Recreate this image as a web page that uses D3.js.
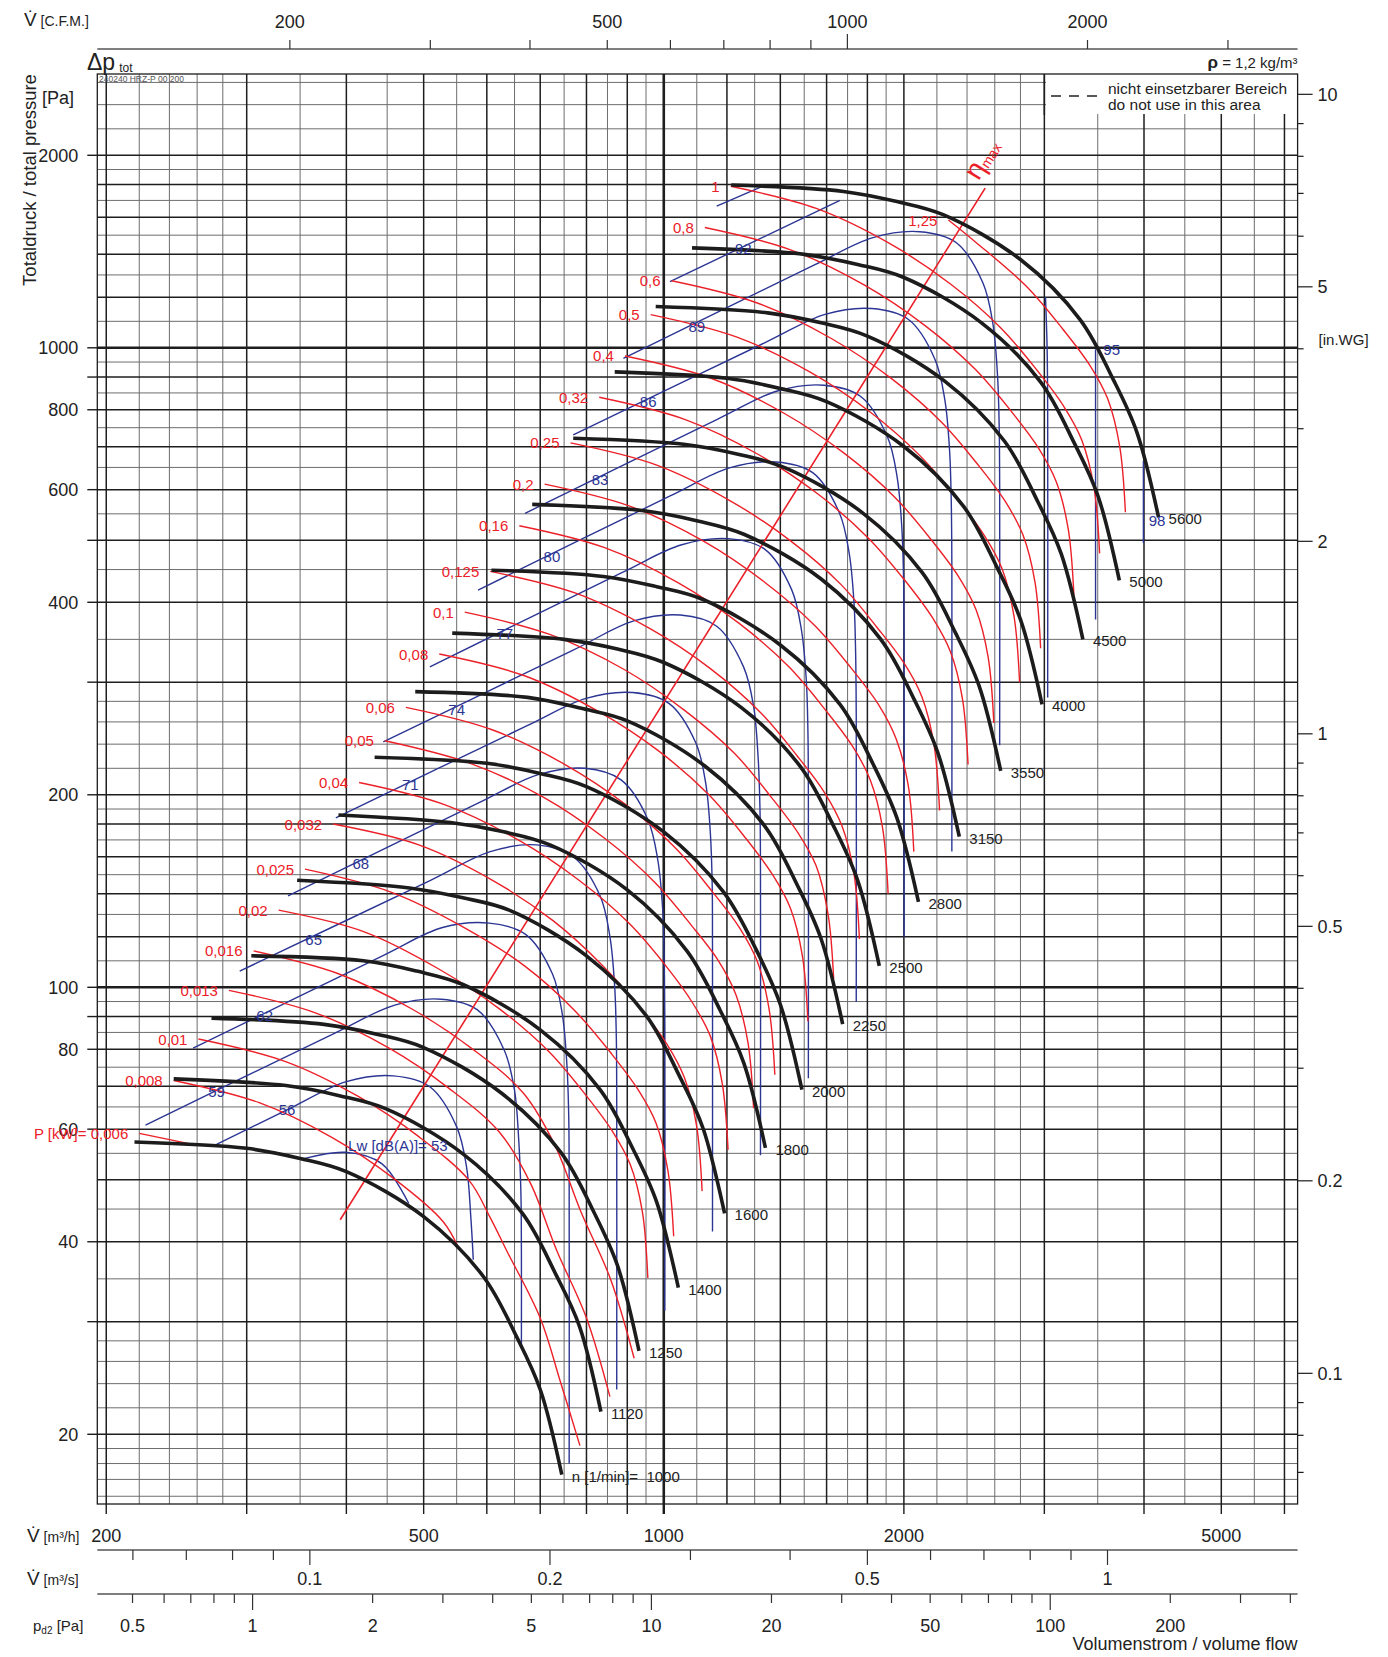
<!DOCTYPE html>
<html lang="de">
<head>
<meta charset="UTF-8">
<title>Kennlinie</title>
<script src="https://cdn.jsdelivr.net/npm/d3@7"></script>
<style>
  body { margin: 0; background: #fff; }
  svg { display: block; font-family: "Liberation Sans", Arial, sans-serif; }
  text { white-space: pre; }
</style>
</head>
<body>
<svg id="chart" width="1388" height="1657"></svg>
<script>
// ---- speed curves n [1/min], flow in m3/h, total pressure in Pa
const speedLevels = [1000, 1120, 1250, 1400, 1600, 1800, 2000, 2250, 2500, 2800, 3150, 3550, 4000, 4500, 5000, 5600];
const speedFlow = [
  [217, 300, 350, 400, 500, 594, 654, 700, 745],
  [243, 336, 392, 448, 560, 665, 732, 784, 834],
  [271, 375, 438, 500, 625, 743, 818, 875, 931],
  [304, 420, 490, 560, 700, 832, 916, 980, 1043],
  [347, 480, 560, 640, 800, 950, 1046, 1120, 1192],
  [391, 540, 630, 720, 900, 1069, 1177, 1260, 1341],
  [434, 600, 700, 800, 1000, 1188, 1308, 1400, 1490],
  [488, 675, 788, 900, 1125, 1337, 1472, 1575, 1676],
  [543, 750, 875, 1000, 1250, 1485, 1635, 1750, 1863],
  [608, 840, 980, 1120, 1400, 1663, 1831, 1960, 2086],
  [684, 945, 1103, 1260, 1575, 1871, 2060, 2205, 2347],
  [770, 1065, 1243, 1420, 1775, 2109, 2322, 2485, 2645],
  [868, 1200, 1400, 1600, 2000, 2376, 2616, 2800, 2980],
  [977, 1350, 1575, 1800, 2250, 2673, 2943, 3150, 3353],
  [1085, 1500, 1750, 2000, 2500, 2970, 3270, 3500, 3725],
  [1215, 1680, 1960, 2240, 2800, 3326, 3662, 3920, 4172]
];
const speedPressure = [
  [57.3, 56.0, 54.0, 51.5, 43.8, 35.3, 28.4, 23.5, 17.3],
  [71.9, 70.2, 67.7, 64.6, 54.9, 44.3, 35.6, 29.5, 21.7],
  [89.5, 87.5, 84.4, 80.5, 68.4, 55.2, 44.4, 36.7, 27.0],
  [112, 110, 106, 101, 85.8, 69.2, 55.7, 46.1, 33.9],
  [147, 143, 138, 132, 112, 90.4, 72.7, 60.2, 44.3],
  [186, 181, 175, 167, 142, 114, 92.0, 76.1, 56.1],
  [229, 224, 216, 206, 175, 141, 114, 94.0, 69.2],
  [290, 284, 273, 261, 222, 179, 144, 119, 87.6],
  [358, 350, 338, 322, 274, 221, 178, 147, 108],
  [449, 439, 423, 404, 343, 277, 223, 184, 136],
  [569, 556, 536, 511, 435, 350, 282, 233, 172],
  [722, 706, 681, 649, 552, 445, 358, 296, 218],
  [917, 896, 864, 824, 701, 565, 454, 376, 277],
  [1160, 1134, 1094, 1043, 887, 715, 575, 476, 350],
  [1433, 1400, 1350, 1288, 1095, 883, 710, 588, 433],
  [1797, 1756, 1693, 1615, 1374, 1107, 891, 737, 543]
];

// ---- shaft power P [kW]
const powerLevels = [0.006, 0.008, 0.01, 0.013, 0.016, 0.02, 0.025, 0.032, 0.04, 0.05, 0.06, 0.08,
                     0.1, 0.125, 0.16, 0.2, 0.25, 0.32, 0.4, 0.5, 0.6, 0.8, 1, 1.25];
const powerFlow = [
  [220, 253],
  [243, 311, 384, 458, 529, 552],
  [261, 335, 414, 493, 570, 605, 635, 700, 741, 785],
  [285, 365, 452, 538, 622, 680, 734, 800, 856],
  [306, 391, 484, 577, 667, 729, 787, 858, 918],
  [329, 422, 521, 621, 718, 798, 862, 908, 940, 955],
  [355, 454, 562, 669, 773, 860, 929, 978, 1012, 1029],
  [385, 493, 610, 727, 839, 934, 1009, 1061, 1099, 1117],
  [415, 531, 657, 783, 904, 1006, 1087, 1144, 1184, 1204],
  [447, 572, 708, 843, 974, 1083, 1171, 1232, 1275, 1296],
  [475, 608, 752, 896, 1035, 1151, 1244, 1309, 1355, 1378],
  [523, 669, 828, 986, 1139, 1267, 1369, 1441, 1492, 1516],
  [563, 721, 892, 1062, 1227, 1365, 1475, 1552, 1607, 1633],
  [606, 777, 960, 1144, 1322, 1470, 1589, 1672, 1731, 1759],
  [659, 843, 1043, 1242, 1435, 1596, 1725, 1815, 1880, 1911],
  [709, 908, 1123, 1338, 1546, 1720, 1858, 1955, 2025, 2058],
  [764, 978, 1210, 1442, 1666, 1852, 2002, 2106, 2181, 2217],
  [830, 1062, 1314, 1565, 1808, 2011, 2173, 2287, 2368, 2407],
  [894, 1144, 1415, 1686, 1948, 2167, 2341, 2464, 2551, 2593],
  [963, 1233, 1524, 1816, 2098, 2334, 2522, 2654, 2748, 2793],
  [1023, 1310, 1620, 1930, 2230, 2480, 2680, 2820, 2920, 2968],
  [1126, 1442, 1783, 2124, 2454, 2730, 2950, 3104, 3214, 3267],
  [1213, 1553, 1921, 2288, 2644, 2940, 3177, 3343, 3462, 3519],
  [2274, 2465, 2848, 3167, 3423, 3602, 3729, 3791]
];
const powerPressure = [
  [59.1, 57.0],
  [71.5, 66.0, 58.2, 50.3, 43.0, 39.3],
  [83.0, 76.6, 67.5, 58.4, 49.9, 43.8, 38.8, 30.4, 24.3, 19.2],
  [98.9, 91.3, 80.4, 69.5, 59.4, 49.5, 38.8, 30.4, 22.9],
  [114, 105, 92.4, 79.9, 68.3, 56.9, 44.6, 34.9, 26.3],
  [132, 122, 107, 92.7, 79.3, 67.9, 59.6, 52.8, 44.6, 35.1],
  [153, 141, 124, 108, 92.0, 78.7, 69.1, 61.3, 51.7, 40.8],
  [180, 167, 147, 127, 108, 92.8, 81.5, 72.3, 60.9, 48.0],
  [209, 193, 170, 147, 126, 108, 94.5, 83.8, 70.7, 55.7],
  [243, 224, 198, 171, 146, 125, 110, 97.3, 82.0, 64.7],
  [274, 253, 223, 193, 165, 141, 124, 110, 92.6, 73.0],
  [332, 307, 270, 234, 200, 171, 150, 133, 112, 88.5],
  [386, 356, 314, 271, 232, 198, 174, 155, 130, 103],
  [447, 413, 364, 315, 269, 230, 202, 179, 151, 119],
  [527, 487, 429, 371, 317, 271, 238, 211, 178, 140],
  [612, 565, 498, 430, 368, 315, 277, 245, 207, 163],
  [710, 656, 577, 499, 427, 365, 321, 285, 240, 189],
  [837, 773, 681, 589, 503, 431, 378, 335, 283, 223],
  [971, 897, 790, 683, 584, 500, 439, 389, 328, 259],
  [1127, 1040, 917, 793, 677, 580, 509, 452, 381, 300],
  [1273, 1175, 1035, 895, 765, 655, 575, 510, 430, 339],
  [1542, 1423, 1254, 1084, 927, 794, 697, 618, 521, 411],
  [1789, 1652, 1455, 1258, 1075, 921, 808, 717, 605, 477],
  [1584, 1460, 1248, 1068, 938, 832, 701, 553]
];

// ---- sound power Lw [dB(A)]  (null = gap in the line)
const noiseLevels = [53, 56, 59, 62, 65, 68, 71, 74, 77, 80, 83, 86, 89, 92, 95, 98];
const noiseFlow = [
  [355, 399, 443, 479],
  [275, 337, 400, 458, 509, 550, 566, 573, 577],
  [224, 387, 460, 526, 584, 631, 650, 658, 662, 663, 663],
  [257, 444, 528, 604, 671, 725, 746, 756, 760, 761, 761],
  [294, 510, 606, 693, 770, 832, 856, 868, 872, 873, 873],
  [338, 585, 696, 796, 884, 955, 983, 997, 1001, 1003, 1003],
  [388, 672, 799, 914, 1015, 1097, 1129, 1144, 1150, 1151, 1151],
  [445, 771, 917, 1049, 1165, 1259, 1296, 1313, 1320, 1322, 1322],
  [509, 886, 1053, 1205, 1339, 1446, 1488, 1509, 1516, 1518, 1518],
  [585, 1017, 1209, 1383, 1537, 1660, 1708, 1732, 1740, 1743, 1743],
  [670, 1167, 1388, 1588, 1764, 1906, 1961, 1988, 1998, 2001, 2001],
  [770, 1340, 1593, 1823, 2025, 2188, 2251, 2282, 2293, 2297, 2297],
  [890, 1538, 1829, 2093, 2325, 2512, 2585, 2620, 2633, 2637, 2637],
  [1018, 1663, null, 3010, 3024, 3029, 3029],
  [1165, 1327, null, 3478, 3478],
  [3993, 3993]
];
const noisePressure = [
  [54.0, 55.2, 53.0, 45.9],
  [56.8, 64.3, 71.2, 72.7, 69.9, 60.5, 52.3, 43.6, 37.5],
  [60.9, 84.8, 93.8, 95.8, 92.2, 79.7, 69.0, 57.5, 47.9, 38.3, 27.3],
  [80.3, 112, 124, 126, 121, 105, 90.9, 75.8, 63.2, 50.5, 18.0],
  [106, 147, 163, 167, 160, 139, 120, 99.9, 83.3, 66.6, 23.5],
  [139, 194, 215, 220, 211, 183, 158, 132, 110, 87.8, 31.2],
  [184, 256, 283, 289, 278, 241, 208, 174, 145, 116, 41.5],
  [242, 337, 374, 382, 367, 317, 275, 229, 191, 153, 54.6],
  [317, 445, 492, 503, 484, 419, 362, 302, 252, 201, 72.1],
  [418, 586, 649, 663, 638, 552, 477, 398, 332, 265, 94.8],
  [551, 773, 856, 874, 840, 727, 629, 524, 437, 350, 120],
  [731, 1019, 1128, 1152, 1108, 959, 829, 691, 576, 461, 163],
  [963, 1344, 1487, 1519, 1461, 1264, 1094, 911, 760, 608, 239],
  [1269, 1700, null, 1201, 1001, 801, 284],
  [1666, 1786, null, 995, 376],
  [665, 495]
];

// efficiency maximum line
const etaFlow = [393, 2529];
const etaPressure = [43.3, 1777];

// grid / tick values
const flowMinor = [220, 240, 260, 280, 350, 450, 550, 650, 750, 850, 950, 1100, 1300, 1500, 1700, 1900,
                   2200, 2400, 2600, 2800, 3500, 4500, 5500];
const flowMajor = [200, 300, 400, 500, 600, 700, 800, 900, 1000, 1200, 1400, 1600, 1800, 2000, 3000, 4000, 5000, 6000];
const pressMinor = [16, 17, 18, 19, 22, 24, 26, 28, 35, 45, 55, 65, 75, 85, 95, 110, 130, 150, 170, 190,
                    220, 240, 260, 280, 350, 450, 550, 650, 750, 850, 950, 1100, 1300, 1500, 1700, 1900, 2200, 2400, 2600];
const pressMajor = [20, 30, 40, 50, 60, 70, 80, 90, 100, 120, 140, 160, 180, 200, 300, 400, 500, 600, 700, 800, 900,
                    1000, 1200, 1400, 1600, 1800, 2000];
const pressTicks = [2000, 1000, 900, 800, 600, 500, 400, 300, 200, 100, 90, 80, 60, 40, 30, 20];
const pressLabels = [2000, 1000, 800, 600, 400, 200, 100, 80, 60, 40, 20];
const flowBottomTicks = [200, 300, 400, 500, 600, 700, 800, 900, 1000, 2000, 3000, 4000, 5000, 6000];
const flowLabels = [200, 500, 1000, 2000, 5000];
const cfmTicks = [200, 300, 400, 500, 600, 700, 800, 900, 1000, 2000, 3000];
const cfmLabels = [200, 500, 1000, 2000];
const m3sTicks = [0.06, 0.07, 0.08, 0.09, 0.1, 0.2, 0.3, 0.4, 0.5, 0.6, 0.7, 0.8, 0.9, 1];
const m3sLabels = [0.1, 0.2, 0.5, 1];
const pdTicks = [0.5, 0.6, 0.7, 0.8, 0.9, 1, 2, 3, 4, 5, 6, 7, 8, 9, 10, 20, 30, 40, 50, 60, 70, 80, 90, 100, 200, 300, 400];
const pdLabels = [0.5, 1, 2, 5, 10, 20, 50, 100, 200];
const inwgTicks = [10, 9, 8, 7, 6, 5, 4, 3, 2, 1, 0.9, 0.8, 0.7, 0.6, 0.5, 0.4, 0.3, 0.2, 0.1, 0.09, 0.08, 0.07];
const inwgLabels = [10, 5, 2, 1, 0.5, 0.2, 0.1];

// label anchors for the sound curves
const noiseLabelFlow = [402, 337, 275, 316, 364, 417, 481, 550, 632, 724, 832, 956, 1100, 1258, 3644, 4153];
const noiseLabelPressure = [56.5, 64.3, 68.7, 90.5, 118.6, 156.3, 207.2, 271.5, 357.7, 472.5, 622.6, 823.6, 1079, 1431, 993, 536];

// unit conversions
const CFM = 1.699;      // m3/h per cfm
const INWG = 249.089;   // Pa per in.WG
const PD1000 = 10.74;   // dynamic pressure [Pa] at 1000 m3/h

// ---- layout
const L = 97.3, R = 1297.6, T = 74, B = 1504;
const RED = "#ec2028", BLUE = "#2b3594", INK = "#1c1c1c";

const svg = d3.select("#chart");
const x = d3.scaleLog().domain([194.9, 6232]).range([L, R]);
const y = d3.scaleLog().domain([15.56, 2680]).range([B, T]);

const grid = svg.append("g");
grid.selectAll(".vmin").data(flowMinor).join("line")
  .attr("x1", d => x(d)).attr("x2", d => x(d)).attr("y1", T).attr("y2", B)
  .attr("stroke", "#6d6d6d").attr("stroke-width", 1);
grid.selectAll(".hmin").data(pressMinor).join("line")
  .attr("x1", L).attr("x2", R).attr("y1", d => y(d)).attr("y2", d => y(d))
  .attr("stroke", "#6d6d6d").attr("stroke-width", 1);
grid.selectAll(".vmaj").data(flowMajor).join("line")
  .attr("x1", d => x(d)).attr("x2", d => x(d)).attr("y1", T).attr("y2", B)
  .attr("stroke", "#1e1e1e").attr("stroke-width", d => d === 1000 ? 2.6 : 1.5);
grid.selectAll(".hmaj").data(pressMajor).join("line")
  .attr("x1", L).attr("x2", R).attr("y1", d => y(d)).attr("y2", d => y(d))
  .attr("stroke", "#1e1e1e").attr("stroke-width", d => (d === 100 || d === 1000) ? 2.6 : 1.5);

// white legend field top right
svg.append("rect").attr("x", 1046).attr("y", T - 1).attr("width", R - 1046 + 1).attr("height", 115 - T)
  .attr("fill", "#fff");
svg.append("rect").attr("x", L).attr("y", T).attr("width", R - L).attr("height", B - T)
  .attr("fill", "none").attr("stroke", INK).attr("stroke-width", 1.3);
svg.append("line").attr("x1", x(3000)).attr("x2", x(3000)).attr("y1", T).attr("y2", 115)
  .attr("stroke", "#1e1e1e").attr("stroke-width", 1.5);

// ---- axes
const ax = svg.append("g").attr("fill", "#222").attr("font-size", 18);

// left Pa
ax.selectAll(".lt").data(pressTicks).join("line")
  .attr("x1", L - 10).attr("x2", L).attr("y1", d => y(d)).attr("y2", d => y(d))
  .attr("stroke", INK).attr("stroke-width", 1.4);
ax.selectAll(".ll").data(pressLabels).join("text")
  .attr("x", L - 19).attr("y", d => y(d) + 6.5).attr("text-anchor", "end").text(d => d);

// right in.WG
ax.selectAll(".rt").data(inwgTicks).join("line")
  .attr("x1", R).attr("x2", d => inwgLabels.includes(d) ? R + 15 : R + 6)
  .attr("y1", d => y(d * INWG)).attr("y2", d => y(d * INWG))
  .attr("stroke", INK).attr("stroke-width", 1.2);
ax.selectAll(".rl").data(inwgLabels).join("text")
  .attr("x", R + 20).attr("y", d => y(d * INWG) + 6.5).text(d => d);
ax.append("text").attr("x", R + 21).attr("y", 345).attr("font-size", 15).text("[in.WG]");

// bottom m3/h
ax.selectAll(".bt").data(flowBottomTicks).join("line")
  .attr("x1", d => x(d)).attr("x2", d => x(d)).attr("y1", B).attr("y2", B + 10)
  .attr("stroke", INK).attr("stroke-width", d => d === 1000 ? 2.4 : 1.4);
ax.selectAll(".bl").data(flowLabels).join("text")
  .attr("x", d => x(d)).attr("y", 1542).attr("text-anchor", "middle").text(d => d);

// top cfm
ax.append("line").attr("x1", L).attr("x2", R).attr("y1", 49).attr("y2", 49).attr("stroke", "#555").attr("stroke-width", 1.3);
ax.selectAll(".ct").data(cfmTicks).join("line")
  .attr("x1", d => x(d * CFM)).attr("x2", d => x(d * CFM)).attr("y1", 49).attr("y2", d => d === 1000 ? 34 : 40)
  .attr("stroke", "#333").attr("stroke-width", 1.2);
ax.selectAll(".cl").data(cfmLabels).join("text")
  .attr("x", d => x(d * CFM)).attr("y", 28).attr("text-anchor", "middle").text(d => d);

// m3/s
ax.append("line").attr("x1", L).attr("x2", R).attr("y1", 1550).attr("y2", 1550).attr("stroke", "#555").attr("stroke-width", 1.3);
ax.selectAll(".st").data(m3sTicks).join("line")
  .attr("x1", d => x(d * 3600)).attr("x2", d => x(d * 3600)).attr("y1", 1550)
  .attr("y2", d => m3sLabels.includes(d) ? 1565 : 1560)
  .attr("stroke", "#333").attr("stroke-width", 1.2);
ax.selectAll(".sl").data(m3sLabels).join("text")
  .attr("x", d => x(d * 3600)).attr("y", 1585).attr("text-anchor", "middle").text(d => d);

// dynamic pressure
const pdToFlow = p => 1000 * Math.sqrt(p / PD1000);
ax.append("line").attr("x1", L).attr("x2", R).attr("y1", 1594).attr("y2", 1594).attr("stroke", "#555").attr("stroke-width", 1.3);
ax.selectAll(".pt").data(pdTicks).join("line")
  .attr("x1", d => x(pdToFlow(d))).attr("x2", d => x(pdToFlow(d))).attr("y1", 1594)
  .attr("y2", d => [1, 10, 100].includes(d) ? 1610 : 1603)
  .attr("stroke", "#333").attr("stroke-width", 1.2);
ax.selectAll(".pl").data(pdLabels).join("text")
  .attr("x", d => x(pdToFlow(d))).attr("y", 1632).attr("text-anchor", "middle").text(d => d);

// axis titles
function vdot(g, xx, yy, unit) {
  const t = g.append("text").attr("x", xx).attr("y", yy);
  t.append("tspan").attr("font-size", 19).text("V\u0307");
  t.append("tspan").attr("font-size", 14).text(" " + unit);
}
vdot(ax, 24, 26, "[C.F.M.]");
vdot(ax, 27, 1542, "[m\u00b3/h]");
vdot(ax, 27, 1585, "[m\u00b3/s]");
const pd = ax.append("text").attr("x", 33).attr("y", 1631).attr("font-size", 15);
pd.append("tspan").text("p");
pd.append("tspan").attr("font-size", 10).attr("dy", 3).text("d2");
pd.append("tspan").attr("dy", -3).text(" [Pa]");
ax.append("text").attr("x", R).attr("y", 1650).attr("text-anchor", "end").text("Volumenstrom / volume flow");

const dp = ax.append("text").attr("x", 87).attr("y", 70);
dp.append("tspan").attr("font-size", 23).text("\u0394p");
dp.append("tspan").attr("font-size", 12).attr("dx", 4).attr("dy", 2).text("tot");
ax.append("text").attr("x", 42).attr("y", 104).text("[Pa]");
ax.append("text").attr("transform", "translate(36,180) rotate(-90)").attr("text-anchor", "middle")
  .attr("font-size", 18.5).text("Totaldruck / total pressure");
ax.append("text").attr("x", 99).attr("y", 82).attr("font-size", 8.5).attr("fill", "#555").text("240240 HRZ-P 00 200");

const rho = ax.append("text").attr("x", R).attr("y", 68).attr("text-anchor", "end").attr("font-size", 15);
rho.append("tspan").attr("font-weight", "bold").attr("font-size", 17).text("\u03c1");
rho.append("tspan").text(" = 1,2 kg/m\u00b3");

ax.append("line").attr("x1", 1051).attr("x2", 1097).attr("y1", 96).attr("y2", 96)
  .attr("stroke", "#222").attr("stroke-width", 1.6).attr("stroke-dasharray", "10,8");
ax.append("text").attr("x", 1108).attr("y", 94).attr("font-size", 15.5).text("nicht einsetzbarer Bereich");
ax.append("text").attr("x", 1108).attr("y", 110).attr("font-size", 15.5).text("do not use in this area");

// ---- curves
const line = d3.line()
  .defined(d => d[0] != null)
  .x(d => x(d[0])).y(d => y(d[1]))
  .curve(d3.curveCatmullRom.alpha(0.5));
const pts = (qs, ps) => qs.map((q, i) => [q, ps[i]]);

const blue = svg.append("g");
blue.selectAll("path").data(noiseLevels).join("path")
  .attr("d", (d, i) => line(pts(noiseFlow[i], noisePressure[i])))
  .attr("fill", "none").attr("stroke", BLUE).attr("stroke-width", 1.4);

const red = svg.append("g");
red.selectAll("path").data(powerLevels).join("path")
  .attr("d", (d, i) => line(pts(powerFlow[i], powerPressure[i])))
  .attr("fill", "none").attr("stroke", RED).attr("stroke-width", 1.4);
red.append("path").attr("d", d3.line().x(d => x(d[0])).y(d => y(d[1]))(pts(etaFlow, etaPressure)))
  .attr("stroke", RED).attr("stroke-width", 1.6).attr("fill", "none");

const black = svg.append("g");
black.selectAll("path").data(speedLevels).join("path")
  .attr("d", (d, i) => line(pts(speedFlow[i], speedPressure[i])))
  .attr("fill", "none").attr("stroke", INK).attr("stroke-width", 3.6).attr("stroke-linecap", "butt");

// ---- curve labels
const lab = svg.append("g").attr("font-size", 15);
lab.selectAll(".nl").data(speedLevels).join("text")
  .attr("x", (d, i) => x(speedFlow[i][speedFlow[i].length - 1]) + 10)
  .attr("y", (d, i) => y(speedPressure[i][speedPressure[i].length - 1]) + 7)
  .attr("fill", "#222")
  .text((d, i) => i === 0 ? "n [1/min]=  " + d : d);

const fmt = v => String(v).replace(".", ",");
lab.selectAll(".pl").data(powerLevels).join("text")
  .attr("x", (d, i) => x(powerFlow[i][0]) - 11)
  .attr("y", (d, i) => y(powerPressure[i][0]) + 5.5)
  .attr("text-anchor", "end").attr("fill", RED)
  .text((d, i) => i === 0 ? "P [kW]= " + fmt(d) : fmt(d));

lab.selectAll(".ll").data(noiseLevels).join("text")
  .attr("x", (d, i) => x(noiseLabelFlow[i]))
  .attr("y", (d, i) => y(noiseLabelPressure[i]) + 5.5)
  .attr("text-anchor", (d, i) => i === 0 ? "start" : "middle")
  .attr("fill", BLUE)
  .text((d, i) => i === 0 ? "Lw [dB(A)]= " + d : d);

const eta = lab.append("text")
  .attr("transform", `translate(${x(2480)},${y(1820)}) rotate(-58)`)
  .attr("fill", RED);
eta.append("tspan").attr("font-size", 28).text("\u03b7");
eta.append("tspan").attr("font-size", 14).attr("dy", 2).text("max");
</script>
</body>
</html>
